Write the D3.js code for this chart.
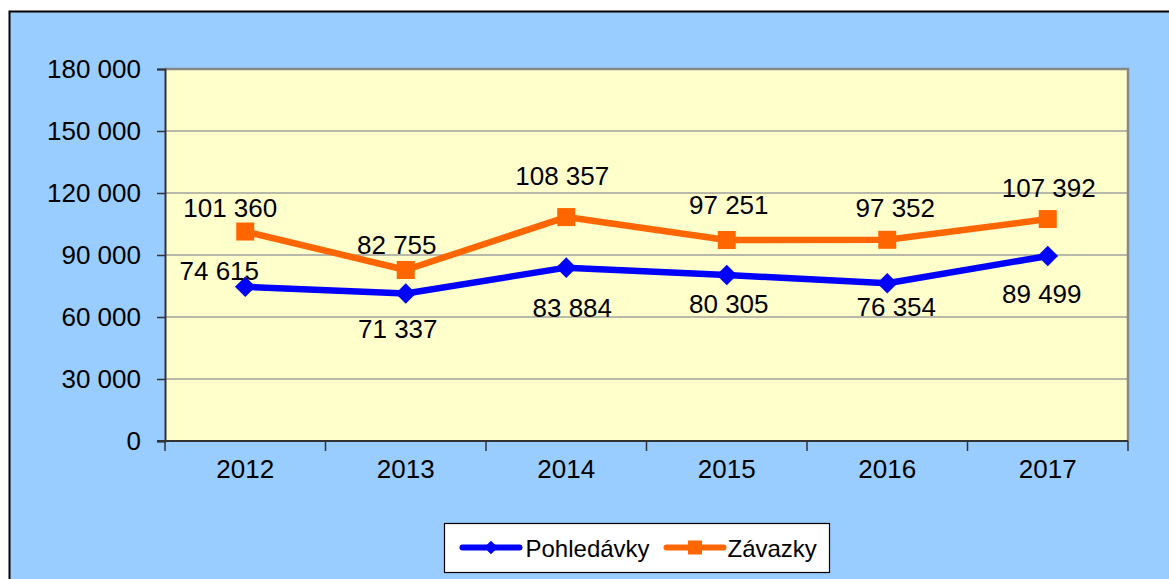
<!DOCTYPE html>
<html>
<head>
<meta charset="utf-8">
<script src="https://cdn.jsdelivr.net/npm/d3@7"></script>
<style>
  html, body { margin: 0; padding: 0; background: #fff; }
  svg { display: block; font-family: "Liberation Sans", Arial, sans-serif; }
</style>
</head>
<body>
<svg id="chart" width="1169" height="579"></svg>
<script>
// data
const years = ["2012", "2013", "2014", "2015", "2016", "2017"];
const pohledavky = [74615, 71337, 83884, 80305, 76354, 89499];
const zavazky = [101360, 82755, 108357, 97251, 97352, 107392];
const yTicks = [0, 30000, 60000, 90000, 120000, 150000, 180000];
const seriesNames = ["Pohledávky", "Závazky"];

// label nudges (dx, dy from the point), labels were placed by hand in the original
const nudgeP = [[-26, -7], [-8, 44], [6, 49], [2, 38], [9, 33], [-6, 47]];
const nudgeZ = [[-15, -15], [-9, -16], [-4, -32], [2, -26], [8, -23], [1, -22]];

const svg = d3.select("#chart");
const W = 1169, H = 579;
const plot = { left: 165, right: 1128, top: 69, bottom: 441 };
const numSize = 26;

const cz = d3.formatLocale({ decimal: ",", thousands: " ", grouping: [3], currency: ["", ""] });
const fmt = cz.format(",d");

// background
svg.append("rect").attr("x", 9).attr("y", 11).attr("width", W - 9).attr("height", H - 11)
    .attr("fill", "#99ccff");
svg.append("path").attr("d", `M9.5,${H} V11.5 H${W}`).attr("fill", "none")
    .attr("stroke", "#000").attr("stroke-width", 2);

const x = d3.scaleBand().domain(years).range([plot.left, plot.right]).padding(0);
const y = d3.scaleLinear().domain([0, 180000]).range([plot.bottom, plot.top]);
const cx = d => x(d) + x.bandwidth() / 2;

// plot area
svg.append("rect").attr("x", plot.left).attr("y", plot.top)
    .attr("width", plot.right - plot.left).attr("height", plot.bottom - plot.top)
    .attr("fill", "#ffffcc");

// gridlines
svg.append("g").selectAll("line").data(yTicks.filter(t => t > 0 && t < 180000)).enter()
    .append("line")
    .attr("x1", plot.left).attr("x2", plot.right)
    .attr("y1", d => y(d)).attr("y2", d => y(d))
    .attr("stroke", "#a0a0a0").attr("stroke-width", 1.5);

// plot border top/right
svg.append("path")
    .attr("d", `M${plot.left},${plot.top} H${plot.right} V${plot.bottom}`)
    .attr("fill", "none").attr("stroke", "#888").attr("stroke-width", 2.5);

// y axis
const yAxis = svg.append("g").attr("transform", `translate(${plot.left},0)`)
    .call(d3.axisLeft(y).tickValues(yTicks).tickFormat(fmt).tickSize(8).tickPadding(16));
yAxis.select(".domain").attr("stroke", "#333").attr("stroke-width", 2);
yAxis.selectAll(".tick line").attr("stroke", "#333").attr("stroke-width", 1.5);
yAxis.selectAll("text").attr("font-size", numSize).attr("fill", "#000")
    .attr("font-family", "Liberation Sans, Arial, sans-serif");

// x axis
const xAxis = svg.append("g").attr("transform", `translate(0,${plot.bottom})`)
    .call(d3.axisBottom(x).tickSize(0).tickPadding(19));
xAxis.select(".domain").remove();
xAxis.selectAll("text").attr("font-size", numSize).attr("fill", "#000")
    .attr("font-family", "Liberation Sans, Arial, sans-serif");
svg.append("line").attr("x1", plot.left - 8).attr("x2", plot.right)
    .attr("y1", plot.bottom).attr("y2", plot.bottom)
    .attr("stroke", "#333").attr("stroke-width", 2);
svg.append("g").selectAll("line").data(years.concat(["end"])).enter()
    .append("line")
    .attr("x1", (d, i) => plot.left + i * x.bandwidth())
    .attr("x2", (d, i) => plot.left + i * x.bandwidth())
    .attr("y1", plot.bottom).attr("y2", plot.bottom + 10)
    .attr("stroke", "#333").attr("stroke-width", 1.5);

// series
const line = d3.line().x((d, i) => cx(years[i])).y(d => y(d));
const diamond = d3.symbol().type(d3.symbolDiamond2).size(270);

function drawSeries(vals, color, marker, nudges) {
    const g = svg.append("g");
    g.append("path").datum(vals).attr("d", line)
        .attr("fill", "none").attr("stroke", color).attr("stroke-width", 6.5)
        .attr("stroke-linejoin", "round");
    if (marker === "square") {
        g.selectAll("rect").data(vals).enter().append("rect")
            .attr("x", (d, i) => cx(years[i]) - 9).attr("y", d => y(d) - 9)
            .attr("width", 18).attr("height", 18).attr("fill", color);
    } else {
        g.selectAll(".mk").data(vals).enter().append("path")
            .attr("transform", (d, i) => `translate(${cx(years[i])},${y(d)})`)
            .attr("d", diamond).attr("fill", color);
    }
    g.selectAll("text").data(vals).enter().append("text")
        .attr("x", (d, i) => cx(years[i]) + nudges[i][0])
        .attr("y", (d, i) => y(d) + nudges[i][1])
        .attr("text-anchor", "middle").attr("font-size", numSize).attr("fill", "#000")
        .text(d => fmt(d));
}

drawSeries(pohledavky, "#0000ff", "diamond", nudgeP);
drawSeries(zavazky, "#ff6600", "square", nudgeZ);

// legend
const lg = svg.append("g").attr("transform", "translate(444.5,523.5)");
lg.append("rect").attr("width", 385).attr("height", 49)
    .attr("fill", "#fff").attr("stroke", "#000").attr("stroke-width", 1.2);
const items = [
    { name: seriesNames[0], color: "#0000ff", marker: "diamond", x0: 18, tx: 81 },
    { name: seriesNames[1], color: "#ff6600", marker: "square", x0: 222, tx: 283 }
];
items.forEach(it => {
    const g = lg.append("g");
    g.append("line").attr("x1", it.x0).attr("x2", it.x0 + 57).attr("y1", 24).attr("y2", 24)
        .attr("stroke", it.color).attr("stroke-width", 6).attr("stroke-linecap", "round");
    if (it.marker === "square") {
        g.append("rect").attr("x", it.x0 + 28.5 - 7).attr("y", 17).attr("width", 14).attr("height", 14)
            .attr("fill", it.color);
    } else {
        g.append("path").attr("transform", `translate(${it.x0 + 28.5},24)`)
            .attr("d", d3.symbol().type(d3.symbolDiamond2).size(120)).attr("fill", it.color);
    }
    g.append("text").attr("x", it.tx).attr("y", 33).attr("font-size", 24).attr("fill", "#000")
        .text(it.name);
});
</script>
</body>
</html>
